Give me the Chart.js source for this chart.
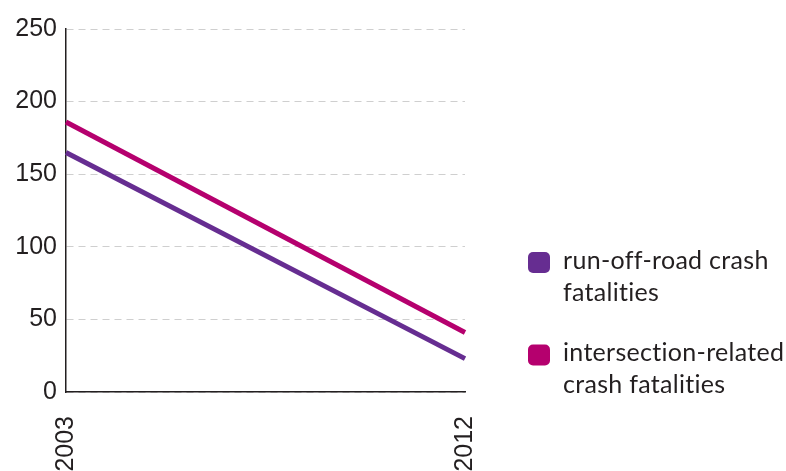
<!DOCTYPE html>
<html>
<head>
<meta charset="utf-8">
<script src="https://cdn.jsdelivr.net/npm/chart.js@4.4.0/dist/chart.umd.min.js"></script>
<style>
  html, body { margin: 0; padding: 0; background: #fff; }
  #wrap { width: 786px; height: 471px; position: relative; }
</style>
</head>
<body>
<div id="wrap"><canvas id="chart"></canvas></div>
<script>
var years = ['2003', '2012'];
var runOffRoad = [165, 23];
var intersection = [186, 41];
var seriesNames = [['run-off-road crash', 'fatalities'], ['intersection-related', 'crash fatalities']];
var yTicks = [0, 50, 100, 150, 200, 250];

var TICK_FONT = '"Liberation Sans", Arial, sans-serif';
var LEGEND_FONT = 'Lato, "DejaVu Sans", sans-serif';
var TEXT = '#231f20';

// draws the two-line legend to the right of the plot
var sideLegend = {
    id: 'sideLegend',
    afterDraw: function (chart) {
        var ctx = chart.ctx;
        var centres = [262.5, 355];
        ctx.save();
        chart.data.datasets.forEach(function (ds, i) {
            var y = centres[i];
            ctx.fillStyle = ds.borderColor;
            ctx.beginPath();
            ctx.roundRect(528, y - 10.5, 22, 21, 5);
            ctx.fill();
            ctx.fillStyle = TEXT;
            ctx.font = '25px ' + LEGEND_FONT;
            ctx.letterSpacing = '0.3px';
            ctx.textBaseline = 'alphabetic';
            ctx.textAlign = 'left';
            ds.label.forEach(function (line, j) {
                ctx.fillText(line, 563, y + 6 + j * 32);
            });
        });
        ctx.restore();
    }
};

new Chart(document.getElementById('chart'), {
    type: 'line',
    data: {
        labels: years,
        datasets: [
            {
                label: seriesNames[0],
                data: runOffRoad,
                borderColor: '#662d91',
                backgroundColor: '#662d91',
                borderWidth: 5,
                pointRadius: 0,
                tension: 0
            },
            {
                label: seriesNames[1],
                data: intersection,
                borderColor: '#b5006e',
                backgroundColor: '#b5006e',
                borderWidth: 5,
                pointRadius: 0,
                tension: 0
            }
        ]
    },
    options: {
        responsive: true,
        maintainAspectRatio: false,
        animation: false,
        layout: { padding: { top: 29, right: 321, left: 0, bottom: 0 } },
        plugins: { legend: { display: false }, tooltip: { enabled: false } },
        scales: {
            x: {
                offset: false,
                grid: { display: false, drawTicks: false },
                border: { display: true, color: TEXT, width: 1.5 },
                ticks: {
                    color: TEXT,
                    font: { family: TICK_FONT, size: 25 },
                    minRotation: 90,
                    maxRotation: 90,
                    padding: 24
                },
                afterFit: function (s) { s.height = 79; }
            },
            y: {
                min: 0,
                max: 250,
                afterBuildTicks: function (s) {
                    s.ticks = yTicks.map(function (v) { return { value: v }; });
                },
                grid: {
                    color: '#cfcfcf',
                    lineWidth: 1,
                    drawTicks: false
                },
                border: { display: true, color: TEXT, width: 1.5, dash: [7, 5] },
                ticks: {
                    color: TEXT,
                    font: { family: TICK_FONT, size: 25 },
                    padding: 9
                },
                afterFit: function (s) { s.width = 66; }
            }
        }
    },
    plugins: [sideLegend]
});
</script>
</body>
</html>
